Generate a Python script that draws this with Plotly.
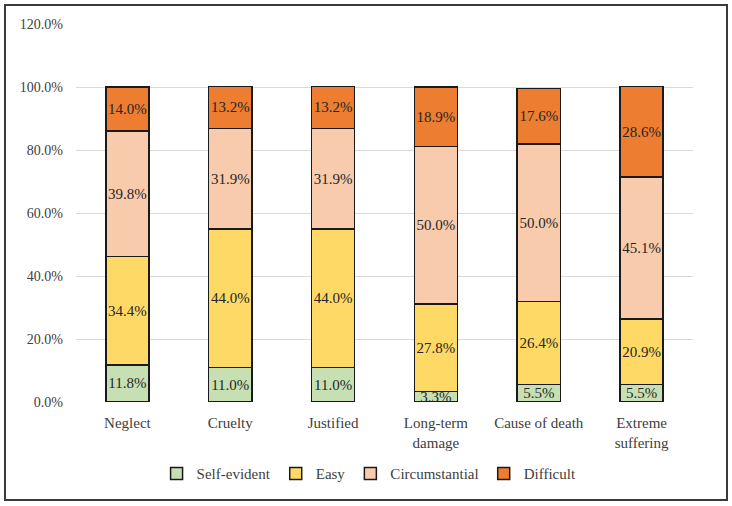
import plotly.graph_objects as go

categories = ["Neglect", "Cruelty", "Justified", "Long-term<br>damage", "Cause of death", "Extreme<br>suffering"]
self_evident = [11.8, 11.0, 11.0, 3.3, 5.5, 5.5]
easy = [34.4, 44.0, 44.0, 27.8, 26.4, 20.9]
circumstantial = [39.8, 31.9, 31.9, 50.0, 50.0, 45.1]
difficult = [14.0, 13.2, 13.2, 18.9, 17.6, 28.6]

series = [
    ("Self-evident", self_evident, "#c6e0b4"),
    ("Easy", easy, "#ffd966"),
    ("Circumstantial", circumstantial, "#f8cbad"),
    ("Difficult", difficult, "#ed7d31"),
]

FONT = "Liberation Serif"
fig = go.Figure()
for name, vals, color in series:
    fig.add_trace(go.Bar(
        name=name, x=categories, y=vals,
        marker=dict(color=color, line=dict(color="#1a1a1a", width=1.5)),
        text=[f"{v:.1f}%" for v in vals],
        textposition="inside", insidetextanchor="middle",
        textangle=0, constraintext="none",
        textfont=dict(family=FONT, size=15, color="#262626"),
        width=0.42,
    ))

fig.update_layout(
    barmode="stack",
    width=732, height=506,
    margin=dict(l=76, r=39, t=24, b=104),
    paper_bgcolor="white", plot_bgcolor="white",
    font=dict(family=FONT, size=15, color="#404040"),
    showlegend=True,
    legend=dict(orientation="h", x=0.475, xanchor="center", y=-0.19, yanchor="middle",
                font=dict(family=FONT, size=15, color="#404040"), traceorder="normal",
                itemwidth=30),
    xaxis=dict(showline=False, ticks="", tickfont=dict(size=15), ticklabelstandoff=10),
    yaxis=dict(range=[0, 120], dtick=20, tickformat=".1f", ticksuffix="%",
               showgrid=True, gridcolor="#d9d9d9", gridwidth=1.2,
               zeroline=False, showline=False, ticks="", tickfont=dict(size=14),
               ticklabelstandoff=12),
    shapes=[dict(type="rect", xref="paper", yref="paper",
                 x0=-0.1151, x1=1.0551, y0=-0.2593, y1=1.0503,
                 line=dict(color="#3a3a3a", width=2), layer="above")],
)

fig.write_html("out.html", config={"displayModeBar": False},
               post_script="document.body.style.margin='0';")
